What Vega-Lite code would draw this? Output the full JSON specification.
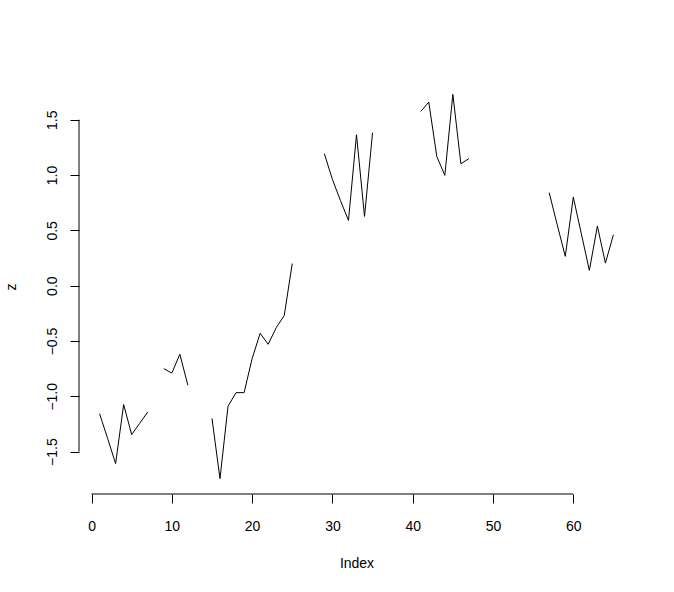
{
  "$schema": "https://vega.github.io/schema/vega-lite/v6.json",
  "width": 555,
  "height": 415,
  "autosize": "none",
  "padding": {"left": 79, "top": 79, "right": 40, "bottom": 98},
  "background": "white",
  "config": {
    "view": {"stroke": null},
    "axis": {
      "labelFont": "Liberation Sans",
      "titleFont": "Liberation Sans",
      "labelFontSize": 14,
      "titleFontSize": 14,
      "titleFontWeight": "normal",
      "labelColor": "black",
      "titleColor": "black",
      "tickColor": "black",
      "tickWidth": 1,
      "grid": false,
      "domain": false,
      "tickSize": 9
    }
  },
  "layer": [
    {
      "data": {
        "values": [
          {"Index": 1, "z": -1.157}, {"Index": 2, "z": -1.38}, {"Index": 3, "z": -1.608},
          {"Index": 4, "z": -1.075}, {"Index": 5, "z": -1.346}, {"Index": 6, "z": -1.244},
          {"Index": 7, "z": -1.142}, {"Index": 8, "z": null}, {"Index": 9, "z": -0.75},
          {"Index": 10, "z": -0.79}, {"Index": 11, "z": -0.62}, {"Index": 12, "z": -0.9},
          {"Index": 13, "z": null}, {"Index": 14, "z": null}, {"Index": 15, "z": -1.2},
          {"Index": 16, "z": -1.744}, {"Index": 17, "z": -1.09}, {"Index": 18, "z": -0.967},
          {"Index": 19, "z": -0.967}, {"Index": 20, "z": -0.66}, {"Index": 21, "z": -0.43},
          {"Index": 22, "z": -0.53}, {"Index": 23, "z": -0.38}, {"Index": 24, "z": -0.27},
          {"Index": 25, "z": 0.2}, {"Index": 26, "z": null}, {"Index": 27, "z": null},
          {"Index": 28, "z": null}, {"Index": 29, "z": 1.193}, {"Index": 30, "z": 0.96},
          {"Index": 31, "z": 0.77}, {"Index": 32, "z": 0.59}, {"Index": 33, "z": 1.364},
          {"Index": 34, "z": 0.626}, {"Index": 35, "z": 1.383}, {"Index": 36, "z": null},
          {"Index": 37, "z": null}, {"Index": 38, "z": null}, {"Index": 39, "z": null},
          {"Index": 40, "z": null}, {"Index": 41, "z": 1.575}, {"Index": 42, "z": 1.659},
          {"Index": 43, "z": 1.168}, {"Index": 44, "z": 0.997}, {"Index": 45, "z": 1.729},
          {"Index": 46, "z": 1.102}, {"Index": 47, "z": 1.148}, {"Index": 48, "z": null},
          {"Index": 49, "z": null}, {"Index": 50, "z": null}, {"Index": 51, "z": null},
          {"Index": 52, "z": null}, {"Index": 53, "z": null}, {"Index": 54, "z": null},
          {"Index": 55, "z": null}, {"Index": 56, "z": null}, {"Index": 57, "z": 0.84},
          {"Index": 58, "z": 0.55}, {"Index": 59, "z": 0.265}, {"Index": 60, "z": 0.8},
          {"Index": 61, "z": 0.47}, {"Index": 62, "z": 0.138}, {"Index": 63, "z": 0.539},
          {"Index": 64, "z": 0.204}, {"Index": 65, "z": 0.461}
        ]
      },
      "mark": {"type": "line", "color": "black", "strokeWidth": 1, "invalid": "break-paths-show-domains"},
      "encoding": {
        "x": {
          "field": "Index", "type": "quantitative", "title": "Index",
          "scale": {"domain": [-1.56, 67.56], "nice": false, "zero": false},
          "axis": {
            "values": [0, 10, 20, 30, 40, 50, 60],
            "labelBaseline": "alphabetic",
            "labelPadding": 27,
            "titleBaseline": "alphabetic",
            "titleY": 73
          }
        },
        "y": {
          "field": "z", "type": "quantitative", "title": "z",
          "scale": {"domain": [-1.883, 1.868], "nice": false, "zero": false},
          "axis": {
            "values": [-1.5, -1, -0.5, 0, 0.5, 1, 1.5],
            "format": ".1f",
            "labelAngle": -90,
            "labelAlign": "center",
            "labelBaseline": "alphabetic",
            "labelPadding": 14,
            "titleBaseline": "alphabetic",
            "titleX": -63.5
          }
        }
      }
    },
    {
      "data": {"values": [{"xa": 0, "xb": 60, "yb": -1.883}]},
      "mark": {"type": "rule", "color": "black", "strokeWidth": 1},
      "encoding": {
        "x": {"field": "xa", "type": "quantitative", "title": "Index"},
        "x2": {"field": "xb"},
        "y": {"field": "yb", "type": "quantitative", "title": "z"}
      }
    },
    {
      "data": {"values": [{"xl": -1.56, "ya": -1.5, "yc": 1.5}]},
      "mark": {"type": "rule", "color": "black", "strokeWidth": 1},
      "encoding": {
        "x": {"field": "xl", "type": "quantitative", "title": "Index"},
        "y": {"field": "ya", "type": "quantitative", "title": "z"},
        "y2": {"field": "yc"}
      }
    }
  ]
}
